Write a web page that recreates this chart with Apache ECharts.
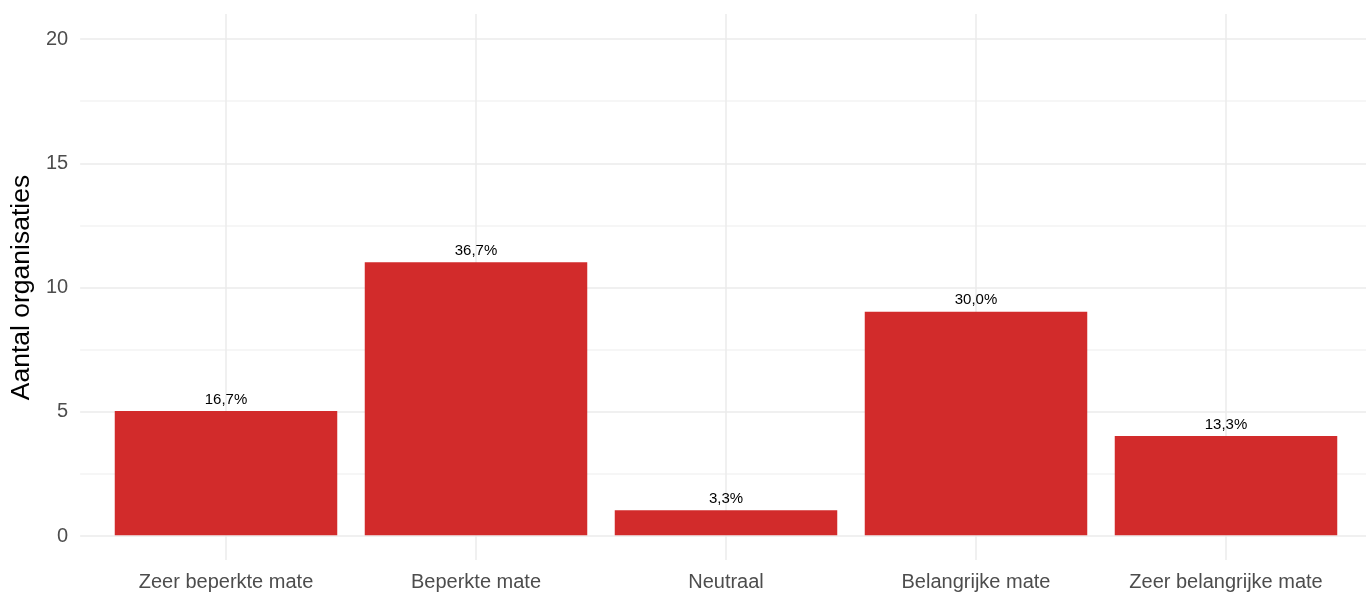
<!DOCTYPE html>
<html>
<head>
<meta charset="utf-8">
<script src="https://cdn.jsdelivr.net/npm/echarts@6/dist/echarts.min.js"></script>
<style>
html,body{margin:0;padding:0;background:#fff;}
#c{width:1366px;height:595px;}
</style>
</head>
<body>
<div id="c"></div>
<script>
const categories = ['Zeer beperkte mate', 'Beperkte mate', 'Neutraal', 'Belangrijke mate', 'Zeer belangrijke mate'];
const counts = [5, 11, 1, 9, 4];
const percentLabels = ['16,7%', '36,7%', '3,3%', '30,0%', '13,3%'];
const yTicks = [0, 5, 10, 15, 20];

const FONT = '"Liberation Sans", Arial, sans-serif';
const chart = echarts.init(document.getElementById('c'), null, {renderer: 'canvas'});

chart.setOption({
  animation: false,
  backgroundColor: '#ffffff',
  grid: [
    {left: 101, width: 1250, top: 14, height: 546, containLabel: false},
    {left: 77, width: 1300, top: 39, height: 497, containLabel: false}
  ],
  xAxis: [
    {
      type: 'category', gridIndex: 0, data: categories, boundaryGap: true,
      axisLine: {show: false}, axisTick: {show: false, alignWithLabel: true},
      splitLine: {show: true, alignWithLabel: true, lineStyle: {color: '#ebebeb', width: 1.5}},
      axisLabel: {color: '#4d4d4d', fontSize: 20, fontFamily: FONT, margin: 12, interval: 0}
    },
    {
      type: 'value', gridIndex: 1, min: 0, max: 1, show: false
    }
  ],
  yAxis: [
    {
      type: 'value', gridIndex: 0, min: -1, max: 21, show: false,
      splitLine: {show: false}
    },
    {
      type: 'value', gridIndex: 1, min: 0, max: 20, interval: 2.5,
      axisLine: {show: false}, axisTick: {show: false},
      splitLine: {show: true, lineStyle: {color: ['#ebebeb', '#f3f3f3'], width: 1.5}},
      axisLabel: {
        color: '#4d4d4d', fontSize: 20, fontFamily: FONT, margin: 12,
        formatter: function (v) { return yTicks.indexOf(v) >= 0 ? String(v) : ''; }
      },
      name: 'Aantal organisaties', nameLocation: 'middle', nameGap: 41,
      nameTextStyle: {color: '#000000', fontSize: 26.5, fontFamily: FONT}
    }
  ],
  series: [{
    type: 'bar', xAxisIndex: 0, yAxisIndex: 0,
    data: counts, barWidth: '89%',
    itemStyle: {color: '#d22b2b'},
    label: {
      show: true, position: 'top', distance: 4,
      color: '#000000', fontSize: 15, fontFamily: FONT,
      formatter: function (p) { return percentLabels[p.dataIndex]; }
    }
  }]
});
</script>
</body>
</html>
